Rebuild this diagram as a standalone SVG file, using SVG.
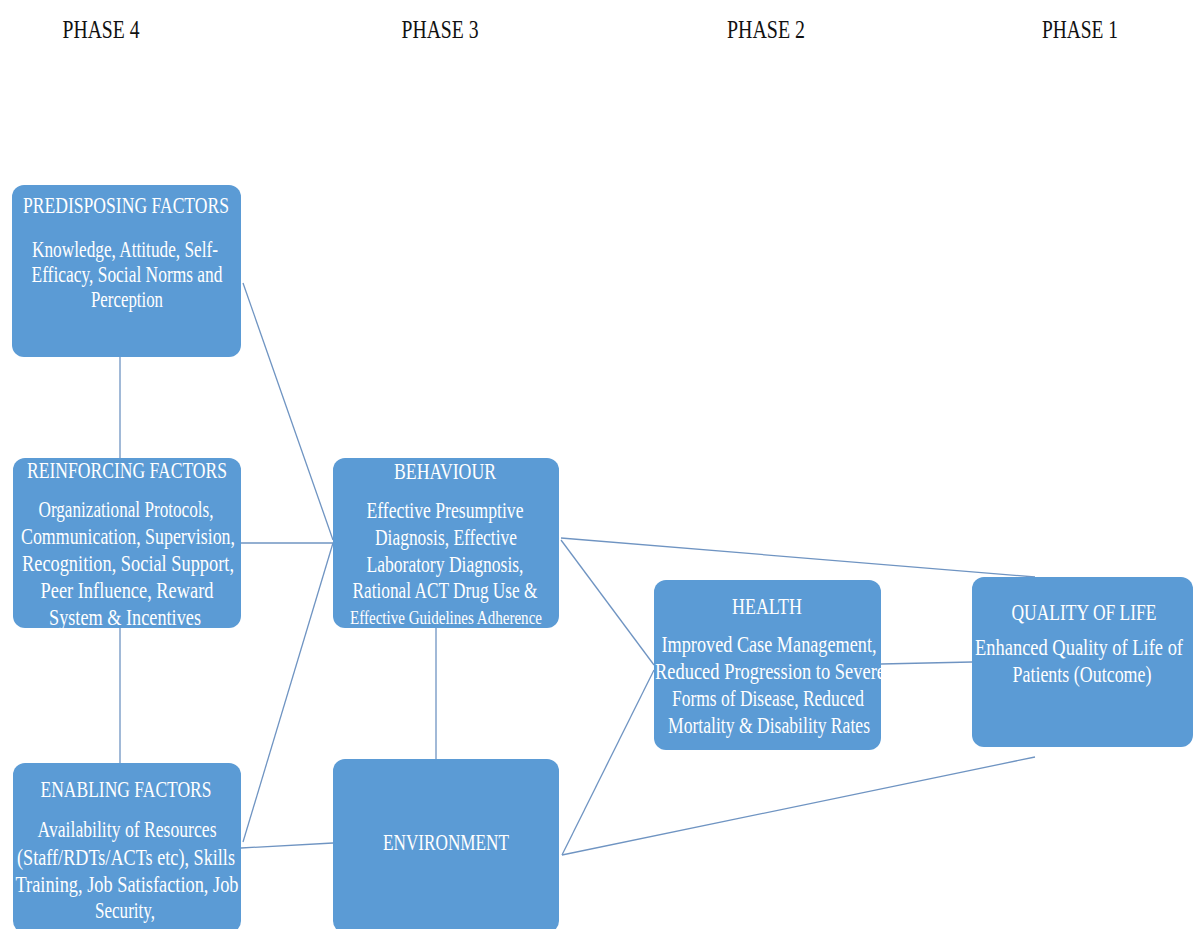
<svg xmlns="http://www.w3.org/2000/svg" width="1194" height="929" viewBox="0 0 1194 929">
<style>
.box{fill:#5b9bd5;}
.t{font-family:"Liberation Serif","Times New Roman",serif;font-size:22.5px;fill:#ffffff;text-anchor:middle;}
.s{font-size:18px;}
.ph{font-family:"Liberation Serif","Times New Roman",serif;font-size:25px;fill:#111111;text-anchor:middle;}
.c line{stroke:#6f94c2;stroke-width:1.3;fill:none;}
</style>
<rect width="1194" height="929" fill="#ffffff"/>
<g id="phases">
<text class="ph" x="101" y="38" textLength="77" lengthAdjust="spacingAndGlyphs">PHASE 4</text>
<text class="ph" x="440" y="38" textLength="77" lengthAdjust="spacingAndGlyphs">PHASE 3</text>
<text class="ph" x="766" y="38" textLength="78" lengthAdjust="spacingAndGlyphs">PHASE 2</text>
<text class="ph" x="1080" y="38" textLength="76" lengthAdjust="spacingAndGlyphs">PHASE 1</text>
</g>
<g class="c" id="connectors">
<line x1="120" y1="357" x2="120" y2="458"/>
<line x1="120" y1="628" x2="120" y2="763"/>
<line x1="243" y1="283" x2="333" y2="540"/>
<line x1="241" y1="543" x2="333" y2="543"/>
<line x1="243" y1="842" x2="333" y2="543"/>
<line x1="241" y1="848" x2="333" y2="843"/>
<line x1="436" y1="628" x2="436" y2="759"/>
<line x1="561" y1="540" x2="654" y2="665"/>
<line x1="561" y1="538" x2="1035" y2="577"/>
<line x1="562" y1="855" x2="654" y2="670"/>
<line x1="562" y1="855" x2="1035" y2="757"/>
<line x1="881" y1="664" x2="972" y2="662"/>
</g>
<g id="predisposing">
<rect class="box" x="12" y="185" width="229" height="172" rx="12"/>
<text class="t" x="126" y="213" textLength="206" lengthAdjust="spacingAndGlyphs">PREDISPOSING FACTORS</text>
<text class="t" x="125" y="257" textLength="186" lengthAdjust="spacingAndGlyphs">Knowledge, Attitude, Self-</text>
<text class="t" x="127" y="282" textLength="191" lengthAdjust="spacingAndGlyphs">Efficacy, Social Norms and</text>
<text class="t" x="127" y="307" textLength="72" lengthAdjust="spacingAndGlyphs">Perception</text>
</g>
<g id="reinforcing">
<rect class="box" x="13" y="458" width="228" height="170" rx="12"/>
<text class="t" x="127" y="478" textLength="200" lengthAdjust="spacingAndGlyphs">REINFORCING FACTORS</text>
<text class="t" x="126" y="517" textLength="175" lengthAdjust="spacingAndGlyphs">Organizational Protocols,</text>
<text class="t" x="128" y="544" textLength="214" lengthAdjust="spacingAndGlyphs">Communication, Supervision,</text>
<text class="t" x="128" y="571" textLength="212" lengthAdjust="spacingAndGlyphs">Recognition, Social Support,</text>
<text class="t" x="127" y="598" textLength="173" lengthAdjust="spacingAndGlyphs">Peer Influence, Reward</text>
<text class="t" x="125" y="625" textLength="152" lengthAdjust="spacingAndGlyphs">System  &amp; Incentives</text>
</g>
<g id="enabling">
<rect class="box" x="13" y="763" width="228" height="170" rx="12"/>
<text class="t" x="126" y="797" textLength="171" lengthAdjust="spacingAndGlyphs">ENABLING FACTORS</text>
<text class="t" x="127" y="837" textLength="179" lengthAdjust="spacingAndGlyphs">Availability of Resources</text>
<text class="t" x="126" y="865" textLength="218" lengthAdjust="spacingAndGlyphs">(Staff/RDTs/ACTs etc), Skills</text>
<text class="t" x="127" y="892" textLength="223" lengthAdjust="spacingAndGlyphs">Training, Job Satisfaction, Job</text>
<text class="t" x="125" y="918" textLength="60" lengthAdjust="spacingAndGlyphs">Security,</text>
</g>
<g id="behaviour">
<rect class="box" x="333" y="458" width="226" height="170" rx="12"/>
<text class="t" x="445" y="479" textLength="102" lengthAdjust="spacingAndGlyphs">BEHAVIOUR</text>
<text class="t" x="445" y="518" textLength="157" lengthAdjust="spacingAndGlyphs">Effective Presumptive</text>
<text class="t" x="446" y="545" textLength="142" lengthAdjust="spacingAndGlyphs">Diagnosis, Effective</text>
<text class="t" x="445" y="572" textLength="157" lengthAdjust="spacingAndGlyphs">Laboratory Diagnosis,</text>
<text class="t" x="445" y="598" textLength="185" lengthAdjust="spacingAndGlyphs">Rational ACT Drug Use &amp;</text>
<text class="t s" x="446" y="624" textLength="192" lengthAdjust="spacingAndGlyphs">Effective Guidelines Adherence</text>
</g>
<g id="environment">
<rect class="box" x="333" y="759" width="226" height="174" rx="12"/>
<text class="t" x="446" y="850" textLength="126" lengthAdjust="spacingAndGlyphs">ENVIRONMENT</text>
</g>
<g id="health">
<rect class="box" x="654" y="580" width="227" height="170" rx="12"/>
<text class="t" x="767" y="614" textLength="70" lengthAdjust="spacingAndGlyphs">HEALTH</text>
<text class="t" x="769" y="652" textLength="215" lengthAdjust="spacingAndGlyphs">Improved Case Management,</text>
<text class="t" x="770" y="679" textLength="230" lengthAdjust="spacingAndGlyphs">Reduced Progression to Severe</text>
<text class="t" x="768" y="706" textLength="192" lengthAdjust="spacingAndGlyphs">Forms of Disease, Reduced</text>
<text class="t" x="769" y="733" textLength="202" lengthAdjust="spacingAndGlyphs">Mortality &amp; Disability Rates</text>
</g>
<g id="quality">
<rect class="box" x="972" y="577" width="221" height="170" rx="12"/>
<text class="t" x="1084" y="620" textLength="145" lengthAdjust="spacingAndGlyphs">QUALITY OF LIFE</text>
<text class="t" x="1079" y="655" textLength="208" lengthAdjust="spacingAndGlyphs">Enhanced Quality of Life of</text>
<text class="t" x="1082" y="682" textLength="139" lengthAdjust="spacingAndGlyphs">Patients (Outcome)</text>
</g>
</svg>
